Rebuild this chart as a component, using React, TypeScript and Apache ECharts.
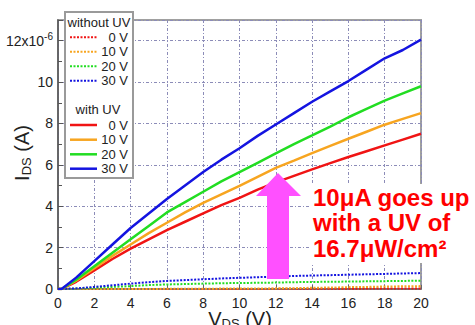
import React, { useEffect, useRef } from 'react';
import * as echarts from 'echarts';

// Drain voltage V_DS (V)
const vds = [0, 0.2, 1, 2, 3, 4, 5, 6, 7, 8, 9, 10, 11, 12, 13, 14, 15, 16, 17, 18, 19, 20];

// I_DS in units of 1e-6 A, with UV illumination (gate 0/10/20/30 V)
const withUV0 = [0, 0, 0.35, 0.9, 1.45, 1.95, 2.4, 2.85, 3.25, 3.65, 4.05, 4.4, 4.8, 5.15, 5.47, 5.78, 6.08, 6.38, 6.66, 6.94, 7.22, 7.5];
const withUV10 = [0, 0, 0.4, 1.0, 1.6, 2.15, 2.7, 3.2, 3.7, 4.16, 4.57, 4.98, 5.42, 5.85, 6.2, 6.57, 6.92, 7.26, 7.6, 7.94, 8.22, 8.5];
const withUV20 = [0, 0, 0.45, 1.1, 1.75, 2.4, 3.05, 3.7, 4.2, 4.7, 5.2, 5.65, 6.1, 6.55, 7.0, 7.42, 7.85, 8.3, 8.7, 9.1, 9.45, 9.8];
const withUV30 = [0, 0, 0.55, 1.35, 2.15, 2.95, 3.65, 4.35, 5.0, 5.65, 6.25, 6.8, 7.4, 7.95, 8.5, 9.05, 9.55, 10.05, 10.6, 11.15, 11.55, 12.05];

// without UV
const noUV0 = [0, 0, 0, 0, 0, 0, 0, 0, 0, 0, 0, 0, 0, 0.01, 0.01, 0.01, 0.01, 0.01, 0.02, 0.02, 0.02, 0.02];
const noUV10 = [0, 0, 0, 0, 0, 0, 0, 0.01, 0.01, 0.01, 0.02, 0.02, 0.03, 0.03, 0.04, 0.06, 0.07, 0.09, 0.1, 0.12, 0.13, 0.14];
const noUV20 = [0, 0, 0.02, 0.06, 0.1, 0.14, 0.19, 0.22, 0.24, 0.26, 0.28, 0.29, 0.3, 0.31, 0.33, 0.34, 0.35, 0.36, 0.37, 0.38, 0.39, 0.4];
const noUV30 = [0, 0, 0.03, 0.1, 0.18, 0.26, 0.33, 0.39, 0.43, 0.47, 0.51, 0.54, 0.57, 0.6, 0.63, 0.65, 0.67, 0.69, 0.71, 0.73, 0.75, 0.77];

const gateLabels = ['0 V', '10 V', '20 V', '30 V'];
const colors = ['#f01414', '#f7a520', '#22dd22', '#1414e0'];
const annotationLines = ['10μA goes up', 'with a UV of', '16.7μW/cm²'];

const FONT = 'Liberation Sans, Arial, Helvetica, sans-serif';

export default function App() {
  const ref = useRef<HTMLDivElement>(null);
  useEffect(() => {
    if (!ref.current) return;
    const chart = echarts.init(ref.current, undefined, { renderer: 'svg' });
    const withUV = [withUV0, withUV10, withUV20, withUV30];
    const noUV = [noUV0, noUV10, noUV20, noUV30];
    const series: any[] = [];
    noUV.forEach((arr, k) => {
      series.push({
        type: 'line', name: 'without UV ' + gateLabels[k], showSymbol: false,
        data: vds.map((v, i) => [v, arr[i]]),
        lineStyle: { color: colors[k], width: 2, type: [2, 1.5] }, z: 2,
      });
    });
    withUV.forEach((arr, k) => {
      series.push({
        type: 'line', name: 'with UV ' + gateLabels[k], showSymbol: false,
        data: vds.map((v, i) => [v, arr[i]]),
        lineStyle: { color: colors[k], width: 2.5 }, z: 3,
      });
    });

    const nameRich = {
      i: { fontSize: 20, fontFamily: FONT, fill: '#222', color: '#222' },
      s: { fontSize: 13, fontFamily: FONT, fill: '#222', color: '#222', padding: [8, 0, 0, 0] },
    };

    const graphics: any[] = [];
    // axis titles
    graphics.push({
      type: 'text', z: 50, x: 22, y: 153, rotation: Math.PI / 2,
      style: { text: '{i|I}{s|DS}{i| (A)}', rich: nameRich, align: 'center', verticalAlign: 'middle' },
    });
    graphics.push({
      type: 'text', z: 50, x: 240, y: 319,
      style: { text: '{i|V}{s|DS}{i| (V)}', rich: nameRich, align: 'center', verticalAlign: 'middle' },
    });
    graphics.push({ type: 'rect', z: 100, shape: { x: 65, y: 12, width: 68, height: 166 }, style: { fill: '#fff', stroke: '#9a9a9a', lineWidth: 2 } });
    graphics.push({ type: 'text', z: 101, x: 99, y: 22, style: { text: 'without UV', fontSize: 13, fontFamily: FONT, fill: '#222', align: 'center', verticalAlign: 'middle' } });
    const dotY = [37.3, 51.7, 66.3, 80.7];
    const solidY = [125, 139.7, 154.3, 168.7];
    gateLabels.forEach((lab, k) => {
      graphics.push({ type: 'line', z: 101, shape: { x1: 70, y1: dotY[k], x2: 97, y2: dotY[k] }, style: { stroke: colors[k], lineWidth: 2, lineDash: [2, 1.5] } });
      graphics.push({ type: 'text', z: 101, x: 128, y: dotY[k], style: { text: lab, fontSize: 13, fontFamily: FONT, fill: '#222', align: 'right', verticalAlign: 'middle' } });
    });
    graphics.push({ type: 'text', z: 101, x: 98, y: 109, style: { text: 'with UV', fontSize: 13, fontFamily: FONT, fill: '#222', align: 'center', verticalAlign: 'middle' } });
    gateLabels.forEach((lab, k) => {
      graphics.push({ type: 'line', z: 101, shape: { x1: 70, y1: solidY[k], x2: 97, y2: solidY[k] }, style: { stroke: colors[k], lineWidth: 2.5 } });
      graphics.push({ type: 'text', z: 101, x: 128, y: solidY[k], style: { text: lab, fontSize: 13, fontFamily: FONT, fill: '#222', align: 'right', verticalAlign: 'middle' } });
    });
    // magenta arrow
    graphics.push({
      type: 'polygon', z: 100,
      shape: { points: [[267, 279], [289, 279], [289, 196], [301, 196], [278, 173], [256, 196], [267, 196]] },
      style: { fill: '#ff50ff' },
    });
    // annotation
    graphics.push({ type: 'rect', z: 100, shape: { x: 311, y: 184, width: 164, height: 79 }, style: { fill: '#fff' } });
    const annY = [197, 222.5, 248];
    annotationLines.forEach((t, k) => {
      graphics.push({ type: 'text', z: 101, x: 313, y: annY[k], style: { text: t, fontSize: 24, fontWeight: 'bold', fontFamily: FONT, fill: '#ff0000', align: 'left', verticalAlign: 'middle' } });
    });

    const gridLine = { show: true, lineStyle: { color: '#8c8cb8', width: 1, type: [3, 2, 1, 2] } };

    chart.setOption({
      animation: false,
      backgroundColor: '#fff',
      grid: { left: 58, right: 54, top: 20, bottom: 36, show: true, borderColor: '#a0a0a0', borderWidth: 2, backgroundColor: 'transparent', containLabel: false, outerBoundsMode: 'none' },
      xAxis: {
        type: 'value', min: 0, max: 20, interval: 2,
        axisLine: { show: true, lineStyle: { color: '#666', width: 1.5 } },
        axisTick: { show: true, inside: true, length: 4, lineStyle: { color: '#666' } },
        axisLabel: { fontSize: 14, fontFamily: FONT, color: '#222', margin: 7 },
        splitLine: gridLine,
      },
      yAxis: {
        type: 'value', min: 0, max: 13, interval: 2,
        axisLine: { show: true, lineStyle: { color: '#555', width: 1.5 } },
        axisTick: { show: true, inside: true, length: 5, lineStyle: { color: '#555' } },
        minorTick: { show: true, splitNumber: 2, length: 4, lineStyle: { color: '#555' } },
        axisLabel: {
          fontSize: 14, fontFamily: FONT, color: '#222', margin: 5, showMaxLabel: false,
          formatter: (v: number) => (v === 12 ? '{a|12x10}{s|-6}' : String(v)),
          rich: { a: { fontSize: 14, fontFamily: FONT, color: '#222' }, s: { fontSize: 10, fontFamily: FONT, color: '#222', padding: [0, 0, 9, 0] } },
        },
        splitLine: gridLine,
      },
      series,
      graphic: { elements: graphics },
    });
    return () => chart.dispose();
  }, []);
  return <div ref={ref} style={{ width: 475, height: 325, position: 'absolute', left: 0, top: 0 }} />;
}
